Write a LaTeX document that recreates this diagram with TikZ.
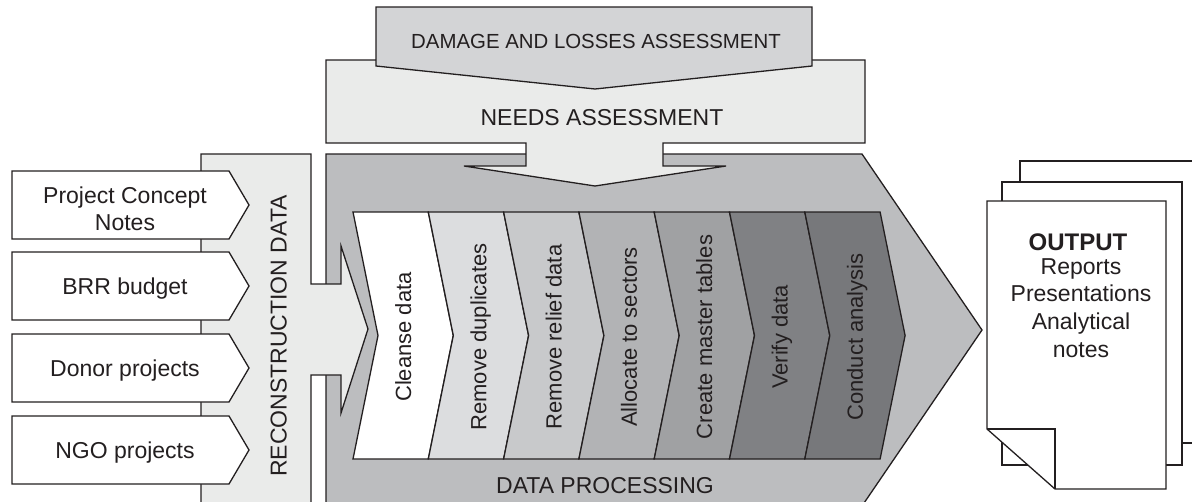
\documentclass[tikz,border=0pt]{standalone}
\usepackage{fontspec}
\setmainfont{Liberation Sans}
\definecolor{ink}{HTML}{231F20}
\definecolor{dmg}{HTML}{D3D4D6}
\definecolor{lite}{HTML}{EAEBEA}
\definecolor{proc}{HTML}{BCBDBF}
\definecolor{cA}{HTML}{FFFFFF}
\definecolor{cB}{HTML}{DCDDDF}
\definecolor{cC}{HTML}{C8C9CB}
\definecolor{cD}{HTML}{B2B3B5}
\definecolor{cE}{HTML}{A0A1A3}
\definecolor{cF}{HTML}{808184}
\definecolor{cG}{HTML}{77787B}
\begin{document}
\begin{tikzpicture}[x=1pt,y=-1pt,line join=miter,
  outl/.style={draw=ink,line width=1.3pt},
  lbl/.style={text=ink,inner sep=0pt,anchor=base,font=\fontsize{23}{27}\selectfont},
  steplbl/.style={text=ink,inner sep=0pt,anchor=base,rotate=90,font=\fontsize{22}{26}\selectfont}]
\useasboundingbox (0,0) rectangle (1192,501);
\begin{scope}
\clip (0,0) rectangle (1192,501);
% data processing
\draw[outl,fill=proc] (326,154) -- (862,154) -- (982,330) -- (862,506) -- (326,506) -- cycle;
% reconstruction data band with arrow
\draw[outl,fill=lite] (201,154) -- (311,154) -- (311,284) -- (341,284) -- (341,246) -- (368,329) -- (341,413) -- (341,375) -- (311,375) -- (311,512) -- (201,512) -- cycle;
% needs assessment
\draw[outl,fill=lite] (326,60) -- (865,60) -- (865,143) -- (663,143) -- (663,166) -- (726,166) -- (595,186) -- (464,166) -- (526,166) -- (526,143) -- (326,143) -- cycle;
% damage and losses
\draw[outl,fill=dmg] (376,7) -- (812,7) -- (812,66) -- (595,89) -- (376,66) -- cycle;
% chevrons
\foreach \i/\c in {0/cA,1/cB,2/cC,3/cD,4/cE,5/cF,6/cG}{
  \pgfmathsetmacro{\L}{353+75.3*\i}
  \pgfmathsetmacro{\R}{\L+75.3}
  \draw[outl,fill=\c] (\L,212) -- (\R,212) -- (\R+25,335.5) -- (\R,459) -- (\L,459) -- (\L+25,335.5) -- cycle;
}
% input boxes
\foreach \t in {171,252,334,416}{
  \draw[outl,fill=white] (12,\t) -- (229,\t) -- (249,\t+34) -- (229,\t+68) -- (12,\t+68) -- cycle;
}
% output documents
\draw[outl,fill=white] (1020,161) rectangle (1200,443);
\draw[outl,fill=white] (1002,182) rectangle (1182,465);
\draw[outl,fill=white] (987,201) -- (1166,201) -- (1166,489) -- (1055,489) -- (987,429) -- cycle;
\draw[outl] (987,429) -- (1055,429) -- (1055,489);
\end{scope}
% labels
\node[lbl,font=\fontsize{20.4}{24}\selectfont] (dmgt) at (596,48.3) {DAMAGE AND LOSSES ASSESSMENT};
\node[lbl] (needt) at (602,125) {NEEDS ASSESSMENT};
\node[lbl] (proct) at (605,493) {DATA PROCESSING};
\node[lbl,rotate=90] (recont) at (286.5,336) {RECONSTRUCTION DATA};
\node[lbl] (in1a) at (125,203.3) {Project Concept};
\node[lbl] (in1b) at (125,230.7) {Notes};
\node[lbl] (in2) at (125,294.3) {BRR budget};
\node[lbl] (in3) at (125,376.3) {Donor projects};
\node[lbl] (in4) at (125,458.5) {NGO projects};
\foreach \i/\s in {0/Cleanse data,1/Remove duplicates,2/Remove relief data,3/Allocate to sectors,4/Create master tables,5/Verify data,6/Conduct analysis}{
  \pgfmathsetmacro{\X}{353+75.3*\i+58}
  \node[steplbl] (step\i) at (\X,337) {\s};
}
\node[lbl,font=\fontsize{24}{28}\bfseries] (out0) at (1078,250) {OUTPUT};
\node[lbl] (out1) at (1081,274) {Reports};
\node[lbl] (out2) at (1081,301.7) {Presentations};
\node[lbl] (out3) at (1081,329) {Analytical};
\node[lbl] (out4) at (1081,357) {notes};
\end{tikzpicture}
\end{document}
